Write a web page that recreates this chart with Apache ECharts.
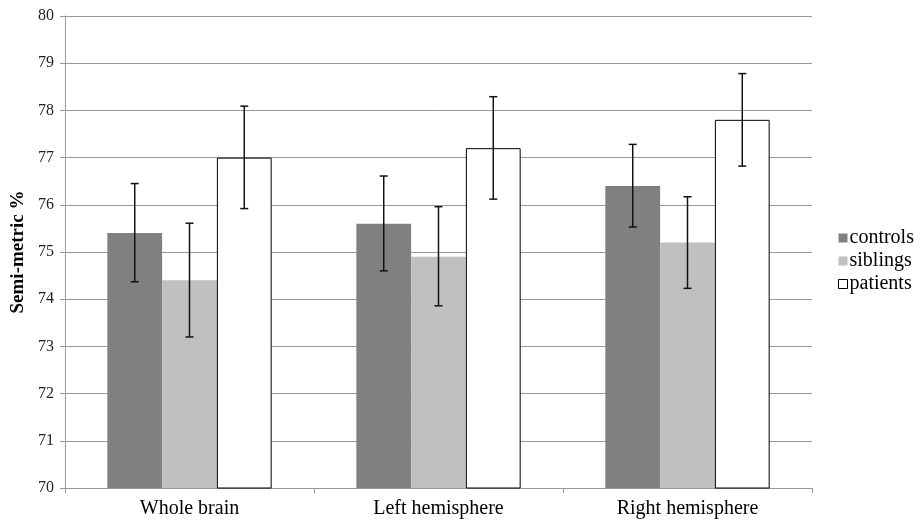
<!DOCTYPE html>
<html>
<head>
<meta charset="utf-8">
<script src="https://cdn.jsdelivr.net/npm/echarts@6/dist/echarts.min.js"></script>
<style>html,body{margin:0;padding:0;background:#fff}#c{width:920px;height:521px}</style>
</head>
<body>
<div id="c"></div>
<script>
var categories = ['Whole brain', 'Left hemisphere', 'Right hemisphere'];
var seriesNames = ['controls', 'siblings', 'patients'];
var controls = [75.4, 75.6, 76.4];
var siblings = [74.4, 74.9, 75.2];
var patients = [77.0, 77.2, 77.8];
var controlsErr = [[74.37, 76.45], [74.6, 76.61], [75.53, 77.28]];
var siblingsErr = [[73.2, 75.61], [73.86, 75.96], [74.23, 76.17]];
var patientsErr = [[75.92, 78.09], [76.12, 78.29], [76.82, 78.78]];
var yTicks = [70, 71, 72, 73, 74, 75, 76, 77, 78, 79, 80];

var font = '"Liberation Serif", "Times New Roman", serif';
var catGap = 0.34;
var chart = echarts.init(document.getElementById('c'));

function errSeries(idx, errs) {
  return {
    type: 'custom',
    name: seriesNames[idx] + ' err',
    z: 10,
    silent: true,
    data: errs.map(function (e, i) { return [i, e[0], e[1]]; }),
    renderItem: function (params, api) {
      var ci = api.value(0);
      var lo = api.coord([ci, api.value(1)]);
      var hi = api.coord([ci, api.value(2)]);
      var cw = api.size([1, 0])[0];
      var bw = cw * (1 - catGap) / 3;
      var x = lo[0] + (idx - 1) * bw;
      var cap = 4;
      var st = { stroke: '#111', lineWidth: 1.5 };
      return {
        type: 'group',
        children: [
          { type: 'line', shape: { x1: x, y1: lo[1], x2: x, y2: hi[1] }, style: st },
          { type: 'line', shape: { x1: x - cap, y1: lo[1], x2: x + cap, y2: lo[1] }, style: st },
          { type: 'line', shape: { x1: x - cap, y1: hi[1], x2: x + cap, y2: hi[1] }, style: st }
        ]
      };
    }
  };
}

chart.setOption({
  animation: false,
  backgroundColor: '#fff',
  grid: { left: 65, right: 108, top: 16, bottom: 33, containLabel: false, outerBoundsMode: 'none' },
  legend: {
    orient: 'vertical',
    left: 838,
    top: 228,
    padding: 0,
    itemWidth: 9,
    itemHeight: 9,
    itemGap: 3,
    data: [
      { name: 'controls', icon: 'rect', itemStyle: { color: '#808080' } },
      { name: 'siblings', icon: 'rect', itemStyle: { color: '#c0c0c0' } },
      { name: 'patients', icon: 'rect', itemStyle: { color: '#fff', borderColor: '#000', borderWidth: 1 } }
    ],
    textStyle: { fontFamily: font, fontSize: 20, lineHeight: 20, color: '#000', padding: [0, 0, 0, -3] }
  },
  xAxis: {
    type: 'category',
    data: categories,
    axisLine: { lineStyle: { color: '#999', width: 1 } },
    axisTick: { show: true, length: 5, lineStyle: { color: '#999' } },
    axisLabel: { fontFamily: font, fontSize: 20, color: '#000', margin: 11 }
  },
  yAxis: {
    type: 'value',
    min: 70,
    max: 80,
    interval: 1,
    name: 'Semi-metric %',
    nameLocation: 'middle',
    nameGap: 37,
    nameTextStyle: { fontFamily: font, fontSize: 19, fontWeight: 'bold', color: '#000' },
    axisLine: { show: true, lineStyle: { color: '#999', width: 1 } },
    axisTick: { show: true, length: 5, lineStyle: { color: '#999' } },
    axisLabel: { fontFamily: font, fontSize: 16, color: '#222', margin: 11,
      formatter: function (v) { return yTicks.indexOf(v) >= 0 ? String(v) : ''; } },
    splitLine: { lineStyle: { color: '#999', width: 1 } }
  },
  series: [
    { type: 'bar', name: 'controls', data: controls, barGap: '0%', barCategoryGap: (catGap * 100) + '%',
      itemStyle: { color: '#808080' } },
    { type: 'bar', name: 'siblings', data: siblings, itemStyle: { color: '#c0c0c0' } },
    { type: 'bar', name: 'patients', data: patients, itemStyle: { color: '#fff', borderColor: '#000', borderWidth: 1 } },
    errSeries(0, controlsErr),
    errSeries(1, siblingsErr),
    errSeries(2, patientsErr)
  ]
});
</script>
</body>
</html>
